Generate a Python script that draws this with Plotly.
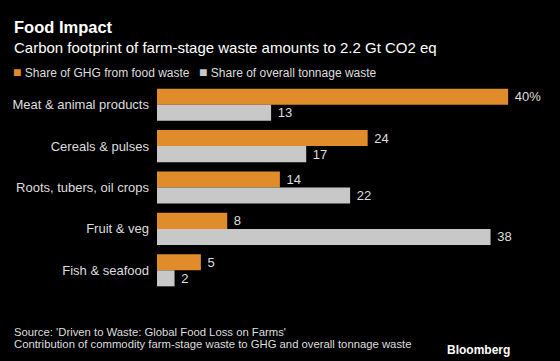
import plotly.graph_objects as go

categories = ["Meat & animal products", "Cereals & pulses", "Roots, tubers, oil crops", "Fruit & veg", "Fish & seafood"]
ghg_share = [40, 24, 14, 8, 5]
tonnage_share = [13, 17, 22, 38, 2]
ghg_labels = ["40%", "24", "14", "8", "5"]
tonnage_labels = ["13", "17", "22", "38", "2"]

ORANGE = "#E08C2A"
GRAY = "#C8C8C8"
TXT = "#DEDEDE"
FONT = "Liberation Sans, Arial, sans-serif"

L, R, T, B = 157, 8, 84, 70
W, H = 560, 361
PW, PH = W - L - R, H - T - B


def px(x):
    return (x - L) / PW


def py(y):
    return (H - B - y) / PH


fig = go.Figure()
fig.add_trace(go.Bar(
    y=categories, x=ghg_share, orientation="h", name="Share of GHG from food waste",
    marker=dict(color=ORANGE, line=dict(width=0)),
    text=ghg_labels, texttemplate="\u00a0%{text}", textposition="outside", cliponaxis=False,
    textfont=dict(color=TXT, size=13, family=FONT), showlegend=False, hoverinfo="skip",
))
fig.add_trace(go.Bar(
    y=categories, x=tonnage_share, orientation="h", name="Share of overall tonnage waste",
    marker=dict(color=GRAY, line=dict(width=0)),
    text=tonnage_labels, texttemplate="\u00a0%{text}", textposition="outside", cliponaxis=False,
    textfont=dict(color=TXT, size=13, family=FONT), showlegend=False, hoverinfo="skip",
))


def note(text, x, y, size, color=TXT, anchor="left"):
    return dict(text=text, xref="paper", yref="paper", x=px(x), y=py(y), xanchor=anchor,
                yanchor="middle", showarrow=False, font=dict(size=size, color=color, family=FONT))


fig.update_layout(
    width=W, height=H,
    paper_bgcolor="black", plot_bgcolor="black",
    margin=dict(l=L, r=R, t=T, b=B),
    barmode="group", bargap=0.225, bargroupgap=0,
    font=dict(family=FONT, color=TXT, size=13),
    xaxis=dict(range=[0, 45], showgrid=False, zeroline=False, showticklabels=False, showline=False),
    yaxis=dict(autorange="reversed", showgrid=False, zeroline=False, showline=False,
               ticks="", ticklabelstandoff=7, tickfont=dict(size=13, color=TXT, family=FONT)),
    annotations=[
        note("<b>Food Impact</b>", 12, 27, 16.5, "white"),
        note("Carbon footprint of farm-stage waste amounts to 2.2 Gt CO2 eq", 12, 47, 15, "white"),
        note(f'<span style="color:{ORANGE};font-size:14px">■</span> Share of GHG from food waste', 11, 72, 12),
        note(f'<span style="color:{GRAY};font-size:14px">■</span> Share of overall tonnage waste', 197, 72, 12),
        note("Source: 'Driven to Waste: Global Food Loss on Farms'", 12, 332, 11.3),
        note("Contribution of commodity farm-stage waste to GHG and overall tonnage waste", 12, 344, 11.3),
        note("<b>Bloomberg</b>", 512, 350, 12, "white", "right"),
    ],
)

fig.write_html("out.html", config={"displayModeBar": False},
               post_script="document.body.style.margin='0';")
